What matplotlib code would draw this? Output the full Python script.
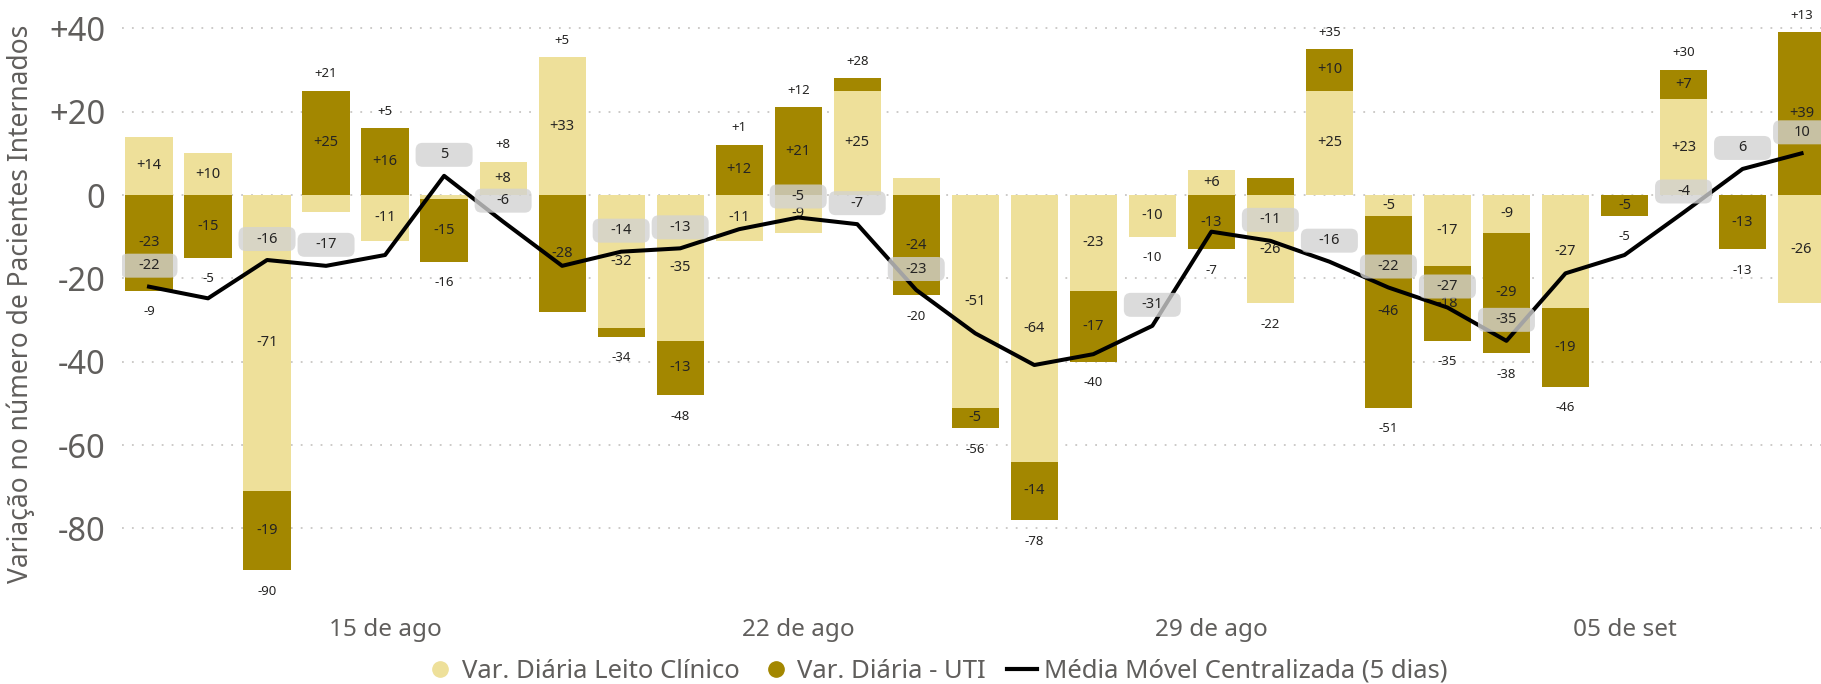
import numpy as np
import matplotlib
matplotlib.use("Agg")
import matplotlib.pyplot as plt
import matplotlib.transforms as mtransforms
from matplotlib.patches import FancyBboxPatch
from matplotlib.lines import Line2D

plt.rcParams['font.family'] = ['Noto Sans', 'DejaVu Sans']

# ---------------- data ----------------
dates = ["11/08", "12/08", "13/08", "14/08", "15/08", "16/08", "17/08", "18/08",
         "19/08", "20/08", "21/08", "22/08", "23/08", "24/08", "25/08", "26/08",
         "27/08", "28/08", "29/08", "30/08", "31/08", "01/09", "02/09", "03/09",
         "04/09", "05/09", "06/09", "07/09", "08/09"]
var_clinico = [14, 10, -71, -4, -11, -1, 8, 33, -32, -35, -11, -9, 25, 4, -51,
               -64, -23, -10, 6, -26, 25, -5, -17, -9, -27, 0, 23, 0, -26]
var_uti = [-23, -15, -19, 25, 16, -15, 0, -28, -2, -13, 12, 21, 3, -24, -5,
           -14, -17, 0, -13, 4, 10, -46, -18, -29, -19, -5, 7, -13, 39]
media_movel = [-22, -24.8, -15.6, -17, -14.4, 4.6, -6.4, -17, -13.6, -12.8,
               -8.2, -5.4, -7, -22.8, -33.2, -40.8, -38.2, -31.4, -8.8, -11,
               -16, -22.2, -27, -35, -18.8, -14.4, -4.2, 6.25, 10]
ma_labeled = [1, 0, 1, 1, 0, 1, 1, 0, 1, 1, 0, 1, 1, 1, 0, 0, 0, 1, 0, 1,
              1, 1, 1, 1, 0, 0, 1, 1, 1]
xtick_dates = ["15/08", "22/08", "29/08", "05/09"]
xtick_labels = ["15 de ago", "22 de ago", "29 de ago", "05 de set"]
ytick_values = [40, 20, 0, -20, -40, -60, -80]
ytick_labels = ["+40", "+20", "0", "-20", "-40", "-60", "-80"]
legend_labels = ["Var. Diária Leito Clínico", "Var. Diária - UTI",
                 "Média Móvel Centralizada (5 dias)"]

# ---------------- style ----------------
LIGHT = "#EEE09A"
DARK = "#A38700"
TXT = "#605E5C"
LBL = "#252423"

W, H = 1821, 684
fig = plt.figure(figsize=(W / 100, H / 100), dpi=100)
ax = fig.add_axes([122 / W, 74 / H, (W - 122) / W, 610 / H])

x = np.arange(len(dates))
clin = np.array(var_clinico, dtype=float)
uti = np.array(var_uti, dtype=float)
uti_bottom = np.where(uti >= 0, np.maximum(clin, 0), np.minimum(clin, 0))

ax.bar(x, clin, width=0.8, color=LIGHT, zorder=2)
ax.bar(x, uti, bottom=uti_bottom, width=0.8, color=DARK, zorder=2)

# segment labels
for i in range(len(x)):
    for v, b in ((clin[i], 0.0), (uti[i], uti_bottom[i])):
        if abs(v) >= 5:
            ax.text(x[i], b + v / 2, f"{int(v):+d}", ha="center", va="center",
                    fontsize=10.5, color=LBL, zorder=3)

# total labels
total = clin + uti
pos_top = np.maximum(clin, 0) + np.maximum(uti, 0)
neg_bot = np.minimum(clin, 0) + np.minimum(uti, 0)
for i in range(len(x)):
    t = int(total[i])
    if t >= 0:
        ax.annotate(f"+{t}", (x[i], pos_top[i]), xytext=(0, 17),
                    textcoords="offset pixels", ha="center", va="center",
                    fontsize=9.5, color=LBL, zorder=3)
    else:
        ax.annotate(f"{t}", (x[i], neg_bot[i]), xytext=(0, -21),
                    textcoords="offset pixels", ha="center", va="center",
                    fontsize=9.5, color=LBL, zorder=3)

# moving average line
ax.plot(x, media_movel, color="black", lw=2.9, zorder=4)

for i in range(len(x)):
    if not ma_labeled[i]:
        continue
    trans = fig.dpi_scale_trans + mtransforms.ScaledTranslation(
        x[i], media_movel[i], ax.transData)
    pad = 0.06
    bw, bh, off = 0.57, 0.24, 0.21
    box = FancyBboxPatch((-bw / 2 + pad, off - bh / 2 + pad), bw - 2 * pad,
                         bh - 2 * pad, boxstyle=f"round,pad={pad},rounding_size=0.07",
                         transform=trans, facecolor="#D2D2D2", edgecolor="none",
                         alpha=0.78, zorder=5)
    ax.add_patch(box)
    ax.annotate(f"{int(round(media_movel[i]))}", (x[i], media_movel[i]),
                xytext=(0, 21), textcoords="offset pixels", ha="center",
                va="center", fontsize=10.5, color=LBL, zorder=6)

# axes
ax.set_xlim((122 - 149) / 59.02, (W - 149) / 59.02)
ax.set_ylim((195 - 610) / 4.167, 195 / 4.167)
ax.set_yticks(ytick_values)
ax.set_yticklabels(ytick_labels, fontsize=23.5, color=TXT)
ax.set_xticks([dates.index(d) for d in xtick_dates])
ax.set_xticklabels(xtick_labels, fontsize=17.5, color=TXT)
ax.tick_params(axis="both", length=0)
ax.tick_params(axis="y", pad=12)
ax.tick_params(axis="x", pad=6)
for s in ax.spines.values():
    s.set_visible(False)
ax.set_axisbelow(True)
ax.yaxis.grid(True, color="#C8C6C4", linestyle=(0, (1, 4.5)), lw=1.3)
ax.xaxis.grid(False)

fig.text(21 / W, 1 - 304 / H, "Variação no número de Pacientes Internados",
         rotation=90, ha="center", va="center", fontsize=19, color=TXT)

handles = [Line2D([], [], marker="o", ls="", color=LIGHT, markersize=11),
           Line2D([], [], marker="o", ls="", color=DARK, markersize=11),
           Line2D([], [], color="black", lw=3)]
fig.legend(handles, legend_labels, loc="center", bbox_to_anchor=(936 / W, 1 - 671 / H),
           ncol=3, frameon=False, fontsize=18.5, handlelength=1.2, handletextpad=0.25,
           columnspacing=0.8, labelcolor=TXT)

fig.savefig("out.png", dpi=100)
